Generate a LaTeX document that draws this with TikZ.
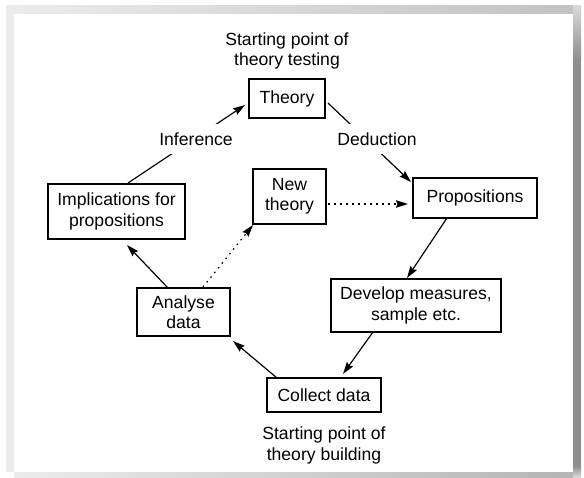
\documentclass[tikz,border=0pt]{standalone}
\usepackage{fontspec}
\setmainfont{Liberation Sans}
\usetikzlibrary{arrows.meta,calc}
\definecolor{panelgrey}{HTML}{ECECEC}
\definecolor{topband}{HTML}{C2C2C2}
\definecolor{sideshadow}{HTML}{8E8E8E}
\definecolor{baseband}{HTML}{B4B4B4}
\begin{document}
\begin{tikzpicture}[x=1pt,y=-1pt,
  every node/.style={font=\fontsize{17.6}{20.5}\selectfont, align=center, inner sep=0pt},
  stagebox/.style={draw, line width=1.9pt, fill=white},
  flow/.style={line width=1.2pt, -{Stealth[length=12pt,width=7.5pt,inset=1.5pt]}},
  hint/.style={flow, dash pattern=on 1.6pt off 4.4pt},
  edgetag/.style={fill=white, inner xsep=3pt, inner ysep=8.5pt},
]
\useasboundingbox (0,0) rectangle (584,477);

% window frame around the white panel
\fill[white] (0,0) rectangle (584,477);
\fill[panelgrey] (6,14) rectangle (14,472);
\shade[left color=panelgrey, right color=topband] (6,5) rectangle (574,14);
\shade[top color=topband!60, bottom color=sideshadow] (573,5) rectangle (581,60);
\fill[sideshadow] (573,60) rectangle (581,466);
\shade[top color=sideshadow, bottom color=topband!60] (573,466) rectangle (581,477);
\shade[left color=panelgrey, right color=baseband] (14,472) rectangle (573,477);
\fill[white] (14,14) rectangle (573,471.5);

% stages of the research cycle
\node[stagebox, minimum width=76pt, minimum height=39pt] (theory) at (287,98.5) {Theory};
\node[stagebox, minimum width=137pt, minimum height=55pt] (impl) at (116.5,211.5) {Implications for\\propositions};
\node[stagebox, minimum width=73pt, minimum height=55pt] (newth) at (289.5,196.5) {New\\theory};
\node[stagebox, minimum width=124pt, minimum height=40pt] (prop) at (475,198) {Propositions};
\node[stagebox, minimum width=93pt, minimum height=48pt] (analyse) at (183.5,312) {Analyse\\data};
\node[stagebox, minimum width=170pt, minimum height=53pt] (develop) at (416,305.5) {Develop measures,\\sample etc.};
\node[stagebox, minimum width=114pt, minimum height=34pt] (collect) at (324,395) {Collect data};

% captions for the two entry points
\node (testing) at (287,51) {Starting point of\\theory testing};
\node (building) at (324,445.5) {Starting point of\\theory building};

% solid cycle
\draw[flow] ($(impl)+(11.5,-28.5)$) -- ($(theory)+(-42,6.5)$);
\draw[flow] ($(theory)+(41,4.5)$) -- ($(prop)+(-64,-16)$);
\draw[flow] ($(prop)+(-28,20)$) -- ($(develop)+(-9,-27.5)$);
\draw[flow] ($(develop)+(-43,26.5)$) -- ($(collect)+(19,-21)$);
\draw[flow] ($(collect)+(-47,-17)$) -- ($(analyse)+(49.5,29)$);
\draw[flow] ($(analyse)+(-15.5,-24)$) -- ($(impl)+(10.5,33.5)$);

% dotted route through a new theory
\draw[hint] ($(analyse)+(19.5,-25)$) -- ($(newth)+(-36.5,28.5)$);
\draw[hint] ($(newth)+(38.5,7.5)$) -- ($(prop)+(-67,6)$);

% edge labels, masking the lines they sit on
\node[edgetag] (inference) at (196,139) {Inference};
\node[edgetag] (deduction) at (377,139) {Deduction};
\end{tikzpicture}
\end{document}
